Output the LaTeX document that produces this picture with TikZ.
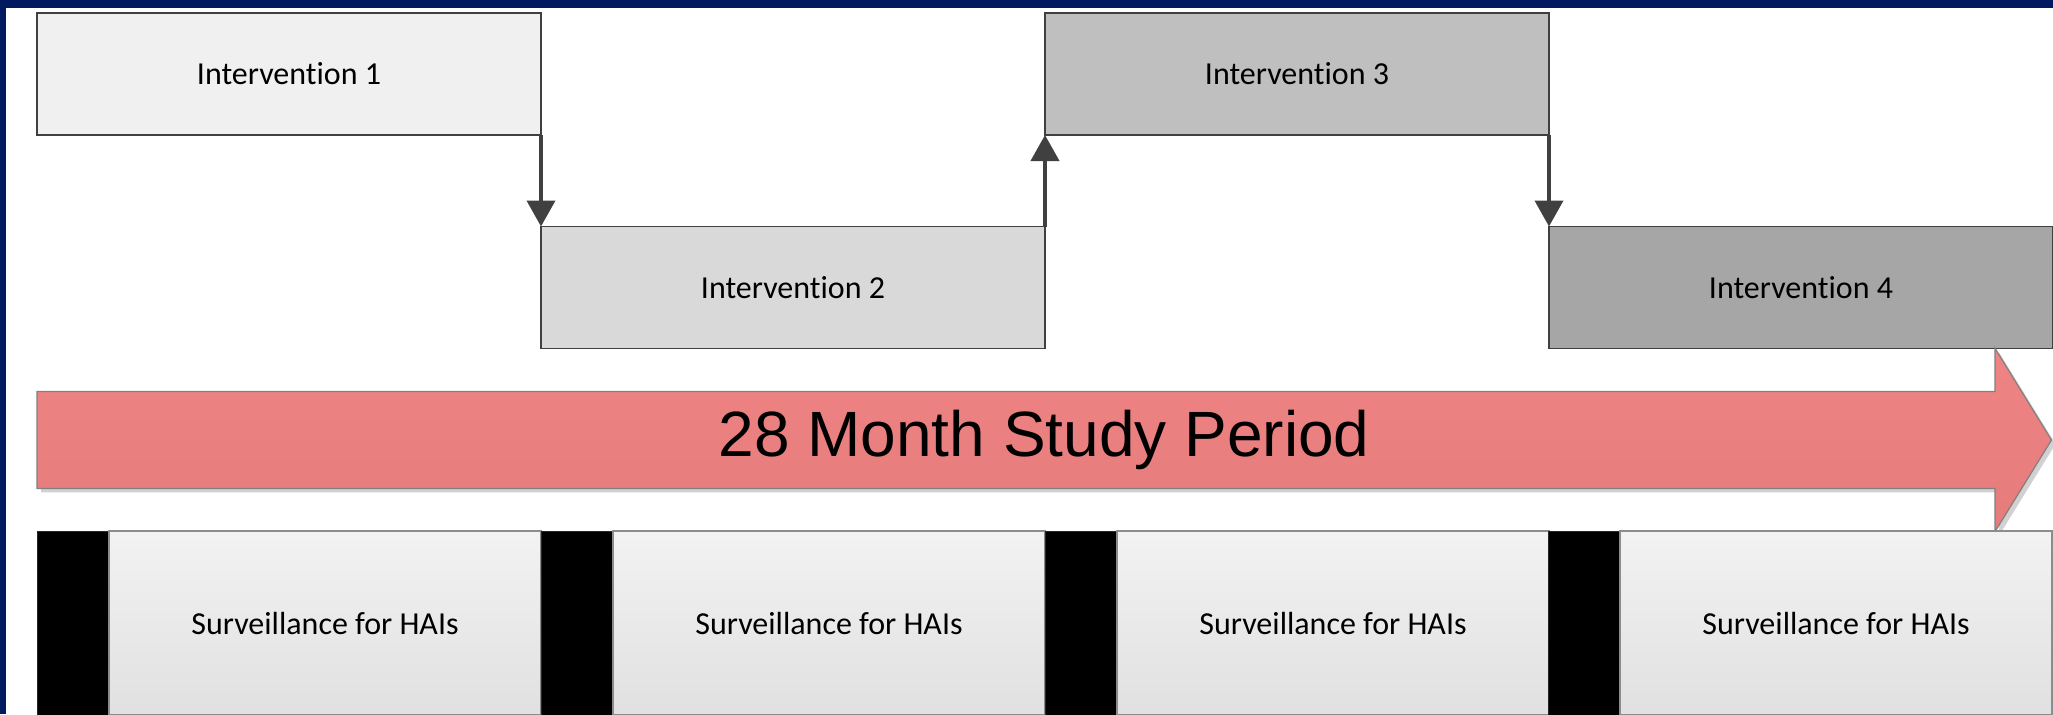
\documentclass[tikz,border=0pt]{standalone}
\usepackage{fontspec}
\setmainfont{Carlito}[Ligatures=NoCommon]
\newfontfamily\arialfont{Liberation Sans}
\usepackage{tikz}
\usetikzlibrary{positioning}
\usetikzlibrary{arrows.meta}
\definecolor{navy}{RGB}{0,25,95}
\definecolor{intA}{RGB}{240,240,240}
\definecolor{intB}{RGB}{217,217,217}
\definecolor{intC}{RGB}{191,191,191}
\definecolor{intD}{RGB}{166,166,166}
\definecolor{arrowtop}{RGB}{240,132,132}
\definecolor{arrowbot}{RGB}{229,123,123}
\definecolor{flowgray}{RGB}{64,64,64}

\begin{document}
\begin{tikzpicture}[x=0.5pt, y=-0.5pt,
    intbox/.style = {draw=flowgray, line width=0.6pt, minimum width=252pt, minimum height=61pt, inner sep=0pt, outer sep=0pt, font=\fontsize{16pt}{19pt}\selectfont},
    flow/.style = {draw=flowgray, line width=2pt, -{Triangle[length=13pt,width=14pt]}},
    bar/.style = {draw=black!85, fill=black, minimum width=36pt, minimum height=92pt, inner sep=0pt, outer sep=0pt, anchor=north west},
    survbox/.style = {draw=black!45, line width=0.6pt, top color=black!5, bottom color=black!12, minimum width=216pt, minimum height=92pt, inner sep=0pt, outer sep=0pt, anchor=north west, font=\fontsize{16pt}{19pt}\selectfont}]
        \useasboundingbox (0,0) rectangle (2053,714);
        \clip (0,0) rectangle (2053,714);
        \fill[navy] (0,0) rectangle (2053,8);
        \fill[navy] (0,0) rectangle (6,714);
        % Nodes
        \node[intbox, fill=intA, anchor=north west] (int1) at (37,13) {Intervention 1};
        \node[intbox, fill=intB] (int2) [below right=45.75pt and 0pt of int1] {Intervention 2};
        \node[intbox, fill=intC] (int3) [above right=45.75pt and 0pt of int2] {Intervention 3};
        \node[intbox, fill=intD] (int4) [below right=45.75pt and 0pt of int3] {Intervention 4};
        % Study period arrow
        \fill[black!18] (41,395.5) -- (1999,395.5) -- (1999,352.3) -- (2055.5,444) -- (1999,535.6) -- (1999,492.4) -- (41,492.4) -- cycle;
        \path[draw=black!50, line width=0.6pt, top color=arrowtop, bottom color=arrowbot] (37,391.5) -- (1995,391.5) -- (1995,348.3) -- (2051.5,440) -- (1995,531.6) -- (1995,488.4) -- (37,488.4) -- cycle;
        \node[font=\arialfont\fontsize{32pt}{38pt}\selectfont] (period) at (1044,440) {28 Month Study Period};
        % Surveillance
        \foreach \i/\x in {1/37,2/541,3/1045,4/1548} {
            \node[bar] (bar\i) at (\x,531) {};
            \node[survbox] (surv\i) at (bar\i.north east) {Surveillance for HAIs};
        }
        % Edges
        \draw[flow] (int1.south east) -- (int2.north west);
        \draw[flow] (int2.north east) -- (int3.south west);
        \draw[flow] (int3.south east) -- (int4.north west);
    \end{tikzpicture}
\end{document}
